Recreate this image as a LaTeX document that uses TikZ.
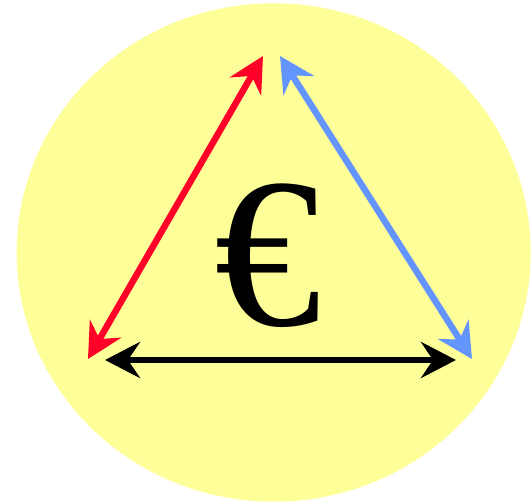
\documentclass[tikz,border=0pt]{standalone}
\usepackage{fontspec}
\setmainfont{Liberation Serif}
\usetikzlibrary{arrows.meta}
\definecolor{bgyellow}{HTML}{FFFF99}
\definecolor{redarrow}{HTML}{FF0029}
\definecolor{bluearrow}{HTML}{6495FF}
\tikzset{
  dbl/.style={line width=6.5pt, {Stealth[length=35pt,width=36pt,inset=12pt]}-{Stealth[length=35pt,width=36pt,inset=12pt]}},
}
\begin{document}
\begin{tikzpicture}[x=1pt,y=-1pt]
\useasboundingbox (0,0) rectangle (531,503);
\fill[bgyellow] (273.7,252.5) ellipse [x radius=257, y radius=249.2];
\coordinate (redlow) at (88,359);
\coordinate (redtop) at (263,56);
\coordinate (bluetop) at (280,56);
\coordinate (bluelow) at (472,359);
\coordinate (blackleft) at (105,360);
\coordinate (blackright) at (456,360);
\draw[dbl, redarrow] (redlow) -- (redtop);
\draw[dbl, bluearrow] (bluetop) -- (bluelow);
\draw[dbl, black] (blackleft) -- (blackright);
\node[inner sep=0pt] (euro) at (267.5,255.5) {\fontsize{214}{214}\selectfont €};
\end{tikzpicture}
\end{document}
